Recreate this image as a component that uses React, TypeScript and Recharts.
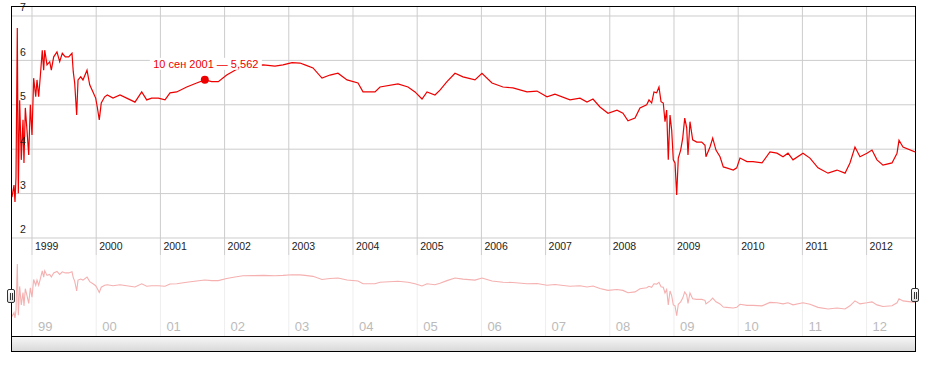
import { CartesianGrid, Line, LineChart, ReferenceDot, ReferenceLine, XAxis, YAxis } from 'recharts';

// decimal years (one row per calendar year)
const years = [
  1998.688, 1998.72, 1998.735, 1998.751, 1998.771, 1998.787, 1998.808, 1998.833, 1998.86, 1998.875, 1998.896, 1998.922, 1998.949, 1998.974,
  1999.0, 1999.026, 1999.058, 1999.078, 1999.104, 1999.129, 1999.16, 1999.182, 1999.198, 1999.234, 1999.276, 1999.301, 1999.338, 1999.389, 1999.431, 1999.472, 1999.519, 1999.572, 1999.623, 1999.643, 1999.665, 1999.696, 1999.717, 1999.759, 1999.794, 1999.857, 1999.899, 1999.95, 1999.992,
  2000.017, 2000.048, 2000.079, 2000.132, 2000.173, 2000.262, 2000.371, 2000.475, 2000.604, 2000.709, 2000.787, 2000.864, 2000.967,
  2001.072, 2001.15, 2001.254, 2001.41, 2001.565, 2001.692, 2001.799, 2001.902,
  2002.033, 2002.162, 2002.287, 2002.442, 2002.603, 2002.785, 2002.91,
  2003.05, 2003.174, 2003.252, 2003.377, 2003.517, 2003.642, 2003.766, 2003.907,
  2004.078, 2004.156, 2004.343, 2004.421, 2004.701, 2004.857, 2004.966,
  2005.075, 2005.153, 2005.277, 2005.355, 2005.464, 2005.589, 2005.713, 2005.9,
  2006.009, 2006.165, 2006.336, 2006.492, 2006.71, 2006.866,
  2007.022, 2007.146, 2007.38, 2007.536, 2007.645, 2007.738, 2007.847, 2007.972,
  2008.112, 2008.205, 2008.283, 2008.393, 2008.47, 2008.575, 2008.611, 2008.652, 2008.688, 2008.73, 2008.766, 2008.798, 2008.833, 2008.86, 2008.886, 2008.911, 2008.938, 2008.964, 2008.989,
  2009.016, 2009.042, 2009.067, 2009.104, 2009.136, 2009.167, 2009.198, 2009.218, 2009.249, 2009.291, 2009.354, 2009.432, 2009.483, 2009.498, 2009.561, 2009.603, 2009.654, 2009.717, 2009.768, 2009.819, 2009.924, 2009.977,
  2010.028, 2010.137, 2010.231, 2010.371, 2010.495, 2010.604, 2010.698, 2010.776, 2010.854,
  2011.009, 2011.118, 2011.243, 2011.399, 2011.539, 2011.664, 2011.741, 2011.819, 2011.897,
  2012.006, 2012.084, 2012.162, 2012.255, 2012.396, 2012.474, 2012.505, 2012.567, 2012.754,
];

const rates = [
  2.92, 3.19, 2.81, 3.37, 6.73, 3.01, 5.1, 3.76, 4.66, 3.69, 4.93, 4.43, 3.87, 5.0,
  4.32, 5.6, 5.18, 5.56, 5.18, 5.63, 6.23, 5.78, 6.23, 5.9, 5.97, 5.78, 6.08, 6.19, 5.97, 6.16, 6.08, 6.08, 6.16, 5.74, 5.49, 4.77, 5.56, 5.63, 5.56, 5.78, 5.45, 5.29, 5.15,
  4.95, 4.66, 5.04, 5.18, 5.22, 5.15, 5.22, 5.15, 5.06, 5.29, 5.11, 5.15, 5.15,
  5.11, 5.27, 5.29, 5.4, 5.49, 5.562, 5.52, 5.52,
  5.67, 5.78, 5.87, 5.88, 5.9, 5.87, 5.9,
  5.95, 5.94, 5.9, 5.83, 5.6, 5.67, 5.71, 5.56,
  5.49, 5.29, 5.29, 5.4, 5.47, 5.4, 5.29,
  5.13, 5.29, 5.22, 5.33, 5.52, 5.71, 5.63, 5.56,
  5.71, 5.49, 5.4, 5.38, 5.29, 5.31,
  5.18, 5.24, 5.11, 5.15, 5.06, 5.13, 4.95, 4.81,
  4.88, 4.81, 4.64, 4.7, 4.93, 5.0, 5.11, 5.04, 5.29, 5.27, 5.4, 5.07, 5.04, 4.62, 4.88, 3.76, 4.77, 4.43, 3.76,
  3.69, 2.97, 3.8, 3.98, 4.25, 4.7, 4.48, 3.87, 4.62, 4.21, 4.16, 4.16, 4.09, 3.83, 4.05, 4.25, 3.98, 3.83, 3.6, 3.58, 3.53, 3.58,
  3.8, 3.72, 3.72, 3.69, 3.94, 3.91, 3.83, 3.91, 3.76,
  3.91, 3.8, 3.58, 3.46, 3.53, 3.46, 3.69, 4.05, 3.83,
  3.91, 3.98, 3.76, 3.64, 3.69, 3.91, 4.2, 4.05, 3.94,
];

const yearTicks = [1999, 2000, 2001, 2002, 2003, 2004, 2005, 2006, 2007, 2008, 2009, 2010, 2011, 2012];
const rateTicks = [2, 3, 4, 5, 6, 7];

const markerYear = 2001.692;
const markerRate = 5.562;
const markerLabel = '10 сен 2001 — 5,562';

const data = years.map((t, i) => ({ t, rate: rates[i] }));

const FONT = '"Liberation Sans", Arial, sans-serif';
const X_DOMAIN: [number, number] = [1998.673, 2012.754];

function YearTick({ x, payload }: any) {
  return (
    <text x={x + 3} y={250} fontSize={10.5} fontFamily={FONT} fill="#222">
      {payload.value}
    </text>
  );
}

function RateTick({ y, payload }: any) {
  return (
    <text x={20} y={y - 4.5} fontSize={10.5} fontFamily={FONT} fill="#222">
      {payload.value}
    </text>
  );
}

function ShortYearTick({ x, payload }: any) {
  return (
    <text x={x + 6} y={76} fontSize={13} fontFamily={FONT} fill="#bbb">
      {String(payload.value).slice(2)}
    </text>
  );
}

function Marker({ cx, cy }: any) {
  return (
    <g>
      <rect x={cx - 55} y={cy - 22} width={112} height={12} fill="#fff" />
      <text x={cx + 1} y={cy - 11.5} textAnchor="middle" fontSize={11} fontFamily={FONT} fill="#e00">
        {markerLabel}
      </text>
      <circle cx={cx} cy={cy} r={4} fill="#e00" />
    </g>
  );
}

function Handle({ left, top }: { left: number; top: number }) {
  return (
    <div
      style={{
        position: 'absolute',
        left,
        top,
        width: 8,
        height: 14,
        boxSizing: 'border-box',
        border: '1px solid #333',
        borderRadius: 2,
        background: 'linear-gradient(#fff, #ddd)',
      }}
    >
      <div style={{ position: 'absolute', left: 2, top: 3, width: 1, height: 7, background: '#333' }} />
      <div style={{ position: 'absolute', left: 4, top: 3, width: 1, height: 7, background: '#333' }} />
    </div>
  );
}

export default function App() {
  return (
    <div style={{ position: 'absolute', left: 0, top: 0, width: 926, height: 372, fontFamily: FONT, background: '#fff' }}>
      <div style={{ position: 'absolute', left: 0, top: 255 }}>
        <LineChart width={926} height={82} data={data} margin={{ top: 0, right: 11, bottom: 0, left: 11 }}>
          <CartesianGrid stroke="#eee" horizontal={false} verticalValues={yearTicks} />
          <XAxis
            dataKey="t"
            type="number"
            domain={X_DOMAIN}
            allowDataOverflow
            ticks={yearTicks}
            interval={0}
            height={1}
            axisLine={false}
            tickLine={false}
            tick={<ShortYearTick />}
          />
          <YAxis type="number" domain={[1.5, 7.38]} hide />
          <Line dataKey="rate" stroke="#f5b0b0" strokeWidth={1.1} dot={false} activeDot={false} isAnimationActive={false} />
        </LineChart>
      </div>

      <div style={{ position: 'absolute', left: 0, top: 0 }}>
        <LineChart width={926} height={260} data={data} margin={{ top: 6, right: 11, bottom: 4, left: 10 }}>
          <CartesianGrid stroke="#ccc" horizontal={false} verticalValues={yearTicks} />
          {rateTicks.map((v) => (
            <ReferenceLine key={v} y={v} stroke="#ccc" />
          ))}
          <XAxis
            dataKey="t"
            type="number"
            domain={X_DOMAIN}
            allowDataOverflow
            ticks={yearTicks}
            interval={0}
            height={1}
            axisLine={false}
            tickLine={false}
            tick={<YearTick />}
          />
          <YAxis
            type="number"
            domain={[1.617, 7.225]}
            allowDataOverflow
            ticks={rateTicks}
            interval={0}
            width={1}
            axisLine={false}
            tickLine={false}
            tick={<RateTick />}
          />
          <Line dataKey="rate" stroke="#e00" strokeWidth={1.2} dot={false} activeDot={false} isAnimationActive={false} />
          <ReferenceDot x={markerYear} y={markerRate} r={4} shape={<Marker />} />
        </LineChart>
      </div>

      {/* frame around chart and navigator */}
      <div
        style={{
          position: 'absolute',
          left: 11,
          top: 6,
          width: 905,
          height: 331,
          boxSizing: 'border-box',
          borderLeft: '1px solid #000',
          borderTop: '1px solid #000',
          borderRight: '1px solid #000',
        }}
      />

      {/* scrollbar */}
      <div
        style={{
          position: 'absolute',
          left: 11,
          top: 336,
          width: 905,
          height: 16,
          boxSizing: 'border-box',
          border: '1px solid #000',
          background: 'linear-gradient(#f6f6f6, #d9d9d9)',
        }}
      />

      <Handle left={7} top={289} />
      <Handle left={911} top={288} />
    </div>
  );
}
